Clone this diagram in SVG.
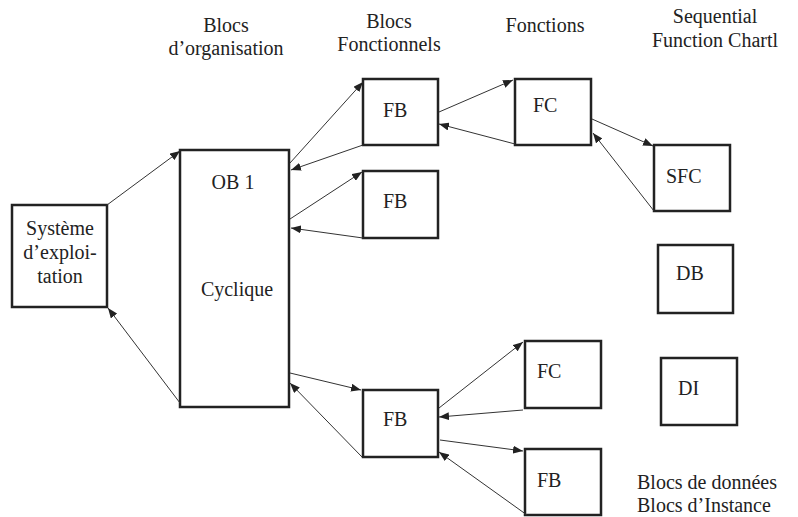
<svg xmlns="http://www.w3.org/2000/svg" width="798" height="517" viewBox="0 0 798 517">
<style>
.box{fill:#fff;stroke:#222;stroke-width:2.5}
.t{font-family:"Liberation Serif","Times New Roman",serif;font-size:20px;fill:#222}
.m{text-anchor:middle}
.c line{stroke:#333;stroke-width:1;marker-end:url(#ah)}
</style>
<defs>
<marker id="ah" markerUnits="userSpaceOnUse" markerWidth="10" markerHeight="8" refX="10" refY="4" orient="auto">
<path d="M0,0 L10,4 L0,8 z" fill="#222"/>
</marker>
</defs>
<rect width="798" height="517" fill="#fff"/>
<g id="headers">
<text class="t m" x="226" y="32">Blocs</text>
<text class="t m" x="226" y="55">d’organisation</text>
<text class="t m" x="389" y="28">Blocs</text>
<text class="t m" x="389" y="51">Fonctionnels</text>
<text class="t m" x="545" y="32">Fonctions</text>
<text class="t m" x="715" y="23">Sequential</text>
<text class="t m" x="715" y="47">Function Chartl</text>
</g>
<g id="systeme">
<rect class="box" x="12" y="205" width="95" height="102"/>
<text class="t m" x="60" y="235">Système</text>
<text class="t m" x="60" y="259">d’exploi-</text>
<text class="t m" x="60" y="283">tation</text>
</g>
<g id="ob1">
<rect class="box" x="180" y="150" width="109" height="257"/>
<text class="t m" x="233" y="189">OB 1</text>
<text class="t m" x="237" y="296">Cyclique</text>
</g>
<g id="fb1">
<rect class="box" x="363" y="79" width="75" height="66"/>
<text class="t" x="383" y="117">FB</text>
</g>
<g id="fb2">
<rect class="box" x="363" y="171" width="75" height="67"/>
<text class="t" x="383" y="208">FB</text>
</g>
<g id="fc1">
<rect class="box" x="515" y="79" width="76" height="66"/>
<text class="t" x="533" y="112">FC</text>
</g>
<g id="sfc">
<rect class="box" x="654" y="145" width="76" height="66"/>
<text class="t" x="666" y="183">SFC</text>
</g>
<g id="db">
<rect class="box" x="658" y="245" width="75" height="68"/>
<text class="t" x="676" y="280">DB</text>
</g>
<g id="di">
<rect class="box" x="661" y="358" width="76" height="67"/>
<text class="t" x="678" y="395">DI</text>
</g>
<g id="fb3">
<rect class="box" x="363" y="390" width="75" height="67"/>
<text class="t" x="383" y="426">FB</text>
</g>
<g id="fc2">
<rect class="box" x="525" y="341" width="76" height="67"/>
<text class="t" x="537" y="378">FC</text>
</g>
<g id="fb4">
<rect class="box" x="525" y="449" width="76" height="66"/>
<text class="t" x="537" y="487">FB</text>
</g>
<g id="legend">
<text class="t" x="637" y="489">Blocs de données</text>
<text class="t" x="637" y="512">Blocs d’Instance</text>
</g>
<g id="connectors" class="c">
<line x1="107" y1="205" x2="180" y2="151"/>
<line x1="180" y1="403" x2="108" y2="308"/>
<line x1="290" y1="163" x2="363" y2="82"/>
<line x1="363" y1="145" x2="291" y2="170"/>
<line x1="290" y1="219" x2="362" y2="172"/>
<line x1="363" y1="238" x2="291" y2="228"/>
<line x1="439" y1="112" x2="513" y2="80"/>
<line x1="515" y1="144" x2="439" y2="124"/>
<line x1="592" y1="119" x2="653" y2="146"/>
<line x1="654" y1="211" x2="593" y2="133"/>
<line x1="290" y1="373" x2="361" y2="390"/>
<line x1="362" y1="457" x2="290" y2="383"/>
<line x1="439" y1="408" x2="523" y2="342"/>
<line x1="523" y1="410" x2="439" y2="417"/>
<line x1="440" y1="440" x2="523" y2="451"/>
<line x1="527" y1="515" x2="439" y2="452"/>
</g>
</svg>
